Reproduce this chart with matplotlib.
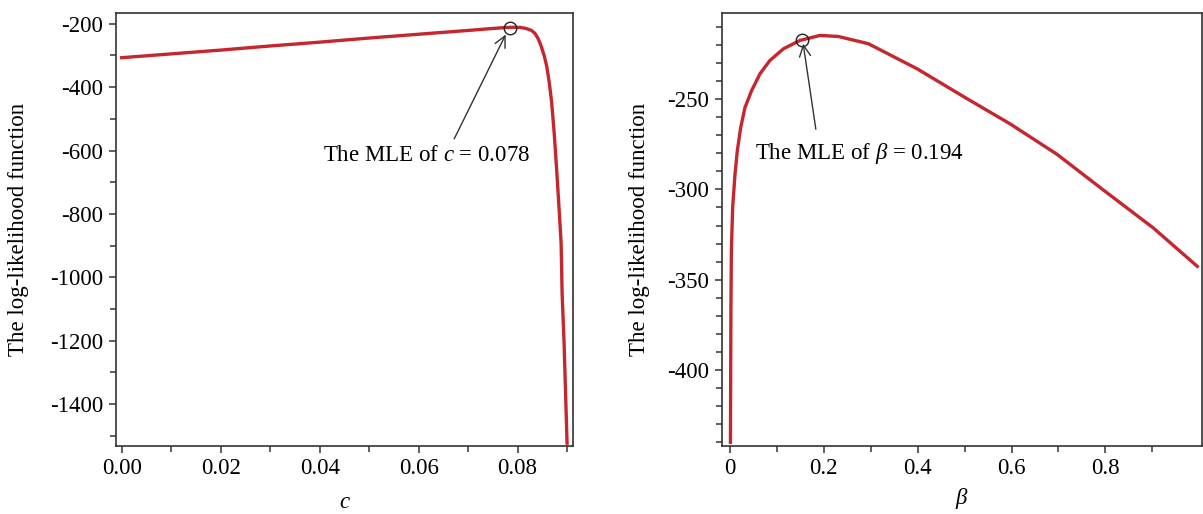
import numpy as np
import matplotlib
matplotlib.use("Agg")
import matplotlib.pyplot as plt
from matplotlib.ticker import MultipleLocator, FixedLocator

plt.rcParams['font.family'] = ['Liberation Serif', 'DejaVu Serif']
plt.rcParams['mathtext.fontset'] = 'custom'
plt.rcParams['mathtext.rm'] = 'Liberation Serif'
plt.rcParams['mathtext.it'] = 'Liberation Serif:italic'
plt.rcParams['axes.unicode_minus'] = False

# log-likelihood in c
c_vals = [0.000, 0.010, 0.020, 0.030, 0.040, 0.050, 0.060, 0.065, 0.070, 0.074,
          0.077, 0.079, 0.0805, 0.0818, 0.0828, 0.0835, 0.0842, 0.0848, 0.0854,
          0.0859, 0.0864, 0.0869, 0.0874, 0.0879, 0.0884, 0.0888, 0.0890,
          0.0894, 0.0897, 0.0900]
ll_c = [-307, -295, -283, -270, -258, -245, -233, -227, -221, -216,
        -212.5, -211, -211.5, -215, -221, -230, -248, -272, -302,
        -335, -385, -450, -545, -660, -787, -892, -1050,
        -1208, -1366, -1523]

# log-likelihood in beta
beta_vals = [0.001, 0.002, 0.003, 0.0057, 0.0107, 0.0156, 0.0228, 0.032, 0.046,
             0.064, 0.085, 0.114, 0.149, 0.192, 0.231, 0.295, 0.399, 0.5,
             0.598, 0.697, 0.799, 0.902, 0.996]
ll_beta = [-440, -366, -334, -310, -291.7, -278.7, -265.8, -254.7, -245.4,
           -236, -228.7, -222.2, -217.6, -214.8, -215.4, -219.4, -233.3, -249,
           -263.9, -280.6, -301, -321.3, -342.6]

mle_c = (0.0784, -213)
mle_beta = (0.153, -217.2)

red = '#c4272e'
dark = '#333333'
fs = 16.5

fig = plt.figure(figsize=(12.03, 5.14), dpi=100)
ax1 = fig.add_axes([116/1203, 68/514, 457/1203, 433/514])
ax2 = fig.add_axes([722/1203, 68/514, 480/1203, 433/514])

for ax in (ax1, ax2):
    for s in ax.spines.values():
        s.set_color(dark)
        s.set_linewidth(1.2)
    ax.tick_params(which='both', direction='out', color=dark, width=1.1,
                   labelsize=fs, top=False, right=False)
    ax.tick_params(which='major', length=5, pad=4)
    ax.tick_params(which='minor', length=4)
    ax.set_ylabel('The log-likelihood function', fontsize=fs)

arrow = dict(arrowstyle='->', color=dark, lw=1.0, mutation_scale=20,
             shrinkA=0, shrinkB=0)

# left panel
ax1.plot(c_vals, ll_c, color=red, lw=2.4)
ax1.plot(*mle_c, marker='o', ms=9, mfc='none', mec='#222222', mew=1.0)
ax1.set_xlim(-0.00115, 0.0912)
ax1.set_ylim(-1532, -166)
ax1.set_xticks([0.00, 0.02, 0.04, 0.06, 0.08])
ax1.set_xticklabels(['0.00', '0.02', '0.04', '0.06', '0.08'])
ax1.xaxis.set_minor_locator(FixedLocator([0.01, 0.03, 0.05, 0.07, 0.09]))
ax1.set_yticks([-200, -400, -600, -800, -1000, -1200, -1400])
ax1.yaxis.set_minor_locator(MultipleLocator(100))
ax1.set_xlabel('$c$', fontsize=fs, labelpad=9)
ax1.yaxis.set_label_coords(-0.19, 0.5)
ax1.annotate('', xy=(0.0776, -234), xytext=(0.0672, -563), arrowprops=arrow)
ax1.text(0.0406, -616, 'The MLE of $c$ = 0.078', fontsize=fs, va='center', ha='left')

# right panel
ax2.plot(beta_vals, ll_beta, color=red, lw=2.4)
ax2.plot(*mle_beta, marker='o', ms=9, mfc='none', mec='#222222', mew=1.0)
ax2.set_xlim(-0.017, 1.006)
ax2.set_ylim(-442, -202.4)
ax2.set_xticks([0, 0.2, 0.4, 0.6, 0.8])
ax2.set_xticklabels(['0', '0.2', '0.4', '0.6', '0.8'])
ax2.xaxis.set_minor_locator(FixedLocator([0.1, 0.3, 0.5, 0.7, 0.9]))
ax2.set_yticks([-250, -300, -350, -400])
ax2.yaxis.set_minor_locator(MultipleLocator(10))
ax2.set_xlabel(r'$\beta$', fontsize=fs, labelpad=5)
ax2.yaxis.set_label_coords(-0.15, 0.5)
ax2.annotate('', xy=(0.156, -219.4), xytext=(0.183, -266.7), arrowprops=arrow)
ax2.text(0.053, -280, r'The MLE of $\beta$ = 0.194', fontsize=fs, va='center', ha='left')

fig.savefig('out.png', dpi=100)
